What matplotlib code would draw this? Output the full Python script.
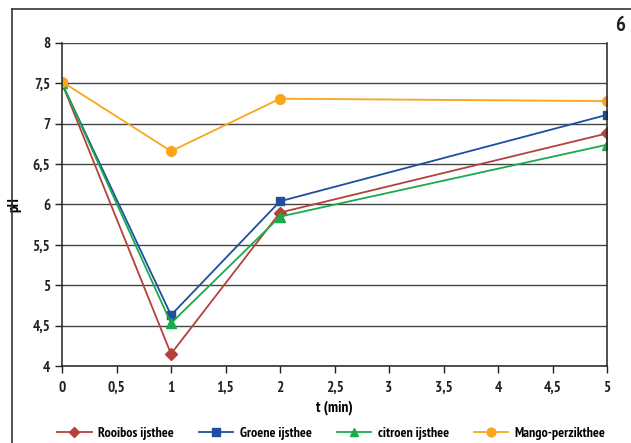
import matplotlib.pyplot as plt
from matplotlib.lines import Line2D
from matplotlib.ticker import FuncFormatter, MultipleLocator

plt.rcParams['font.family'] = ['PT Sans Narrow', 'Open Sans', 'DejaVu Sans']
plt.rcParams['font.weight'] = 'bold'

t = [0, 1, 2, 5]
rooibos = [7.5, 4.15, 5.9, 6.88]
groene = [7.5, 4.63, 6.04, 7.11]
citroen = [7.5, 4.53, 5.85, 6.74]
mango = [7.52, 6.66, 7.31, 7.28]
labels = ['Rooibos ijsthee', 'Groene ijsthee', 'citroen ijsthee', 'Mango-perzikthee']

fig = plt.figure(figsize=(6.31, 4.43), dpi=100)
ax = fig.add_axes([0.0983, 0.1738, 0.8637, 0.7292])

ax.plot(t, rooibos, color='#b5413c', marker='D', markersize=6, lw=1.3, label=labels[0])
ax.plot(t, groene, color='#1f4e9f', marker='s', markersize=6, lw=1.3, label=labels[1])
ax.plot(t, citroen, color='#1aab4b', marker='^', markersize=7, lw=1.3, label=labels[2])
ax.plot(t, mango, color='#f9a61b', marker='o', markersize=7, lw=1.3, label=labels[3])

ax.set_xlim(0, 5)
ax.set_ylim(4, 8)
ax.xaxis.set_major_locator(MultipleLocator(0.5))
ax.yaxis.set_major_locator(MultipleLocator(0.5))
comma = FuncFormatter(lambda v, p: ('%g' % v).replace('.', ','))
ax.xaxis.set_major_formatter(comma)
ax.yaxis.set_major_formatter(comma)
ax.tick_params(labelsize=11, length=5, width=1, colors='#222222')
ax.tick_params(axis='x', pad=6)

ax.grid(axis='y', color='#444444', lw=1)
ax.set_axisbelow(True)
ax.spines['top'].set_visible(False)
for s in ['left', 'bottom', 'right']:
    ax.spines[s].set_color('#222222')
    ax.spines[s].set_linewidth(1.1)

ax.set_xlabel('t (min)', fontsize=11, fontweight='bold', labelpad=4)
ax.set_ylabel('pH', fontsize=11, fontweight='bold', labelpad=8)

leg = fig.legend(loc='lower center', bbox_to_anchor=(0.525, -0.022), ncol=4, frameon=False,
                 fontsize=10, handlelength=2.5, columnspacing=1.8, handletextpad=0.45,
                 markerscale=0.9)
for txt in leg.get_texts():
    txt.set_fontweight('bold')

fig.add_artist(Line2D([0.019, 1.0], [0.98, 0.98], color='#333333', lw=1.2))
fig.add_artist(Line2D([0.019, 0.019], [0.0, 0.98], color='#333333', lw=1.2))
fig.text(0.983, 0.943, '6', fontsize=15, fontweight='bold', ha='center', va='center', color='#222222')

fig.canvas.draw()
plt.setp(ax.get_xticklabels() + ax.get_yticklabels(), fontweight='bold')

fig.savefig('out.png', dpi=100)
